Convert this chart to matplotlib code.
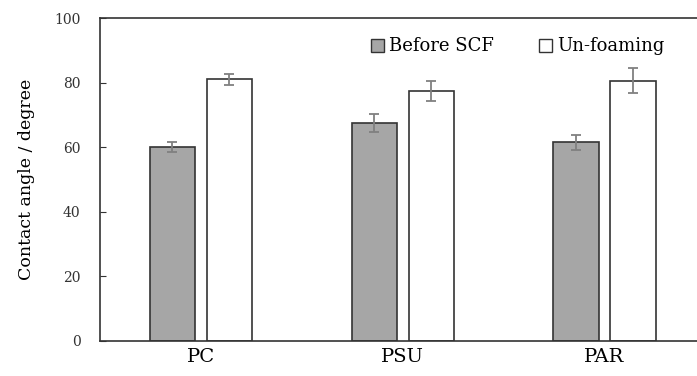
import numpy as np
import matplotlib
matplotlib.use("Agg")
import matplotlib.pyplot as plt
from matplotlib.patches import Patch

categories = ["PC", "PSU", "PAR"]
before_scf = [60.0, 67.4, 61.5]
before_err = [1.5, 2.8, 2.4]
un_foaming = [81.1, 77.5, 80.6]
un_err = [1.7, 3.1, 3.9]

plt.rcParams['font.family'] = ['DejaVu Serif']

fig = plt.figure(figsize=(6.97, 3.76), dpi=100)
# plot area runs past the right edge of the picture, as in the reference
ax = fig.add_axes([100 / 697, 35 / 376, 605.5 / 697, 323 / 376])

x = np.arange(len(categories))
w = 0.225
off = 0.141
ekw = dict(ecolor="#808080", elinewidth=1.3, capsize=3.5, capthick=1.3)

ax.bar(x - off, before_scf, w, yerr=before_err, color="#a6a6a6",
       edgecolor="#333333", linewidth=1.2, error_kw=ekw, zorder=2)
ax.bar(x + off, un_foaming, w, yerr=un_err, color="white",
       edgecolor="#333333", linewidth=1.2, error_kw=ekw, zorder=2)

ax.set_xlim(-0.5, 2.5)
ax.set_ylim(0, 100)
ax.set_yticks(range(0, 101, 20))
ax.set_xticks(x)
ax.set_xticklabels(categories, fontsize=14)
ax.tick_params(axis="x", length=0, pad=5)
ax.tick_params(axis="y", direction="in", length=4, labelsize=10, pad=14,
               colors="#333333")
for s in ["left", "bottom", "top"]:
    ax.spines[s].set_color("#333333")
    ax.spines[s].set_linewidth(1.2)
ax.spines["right"].set_visible(False)

ax.set_ylabel("Contact angle / degree", fontsize=12.5, labelpad=14)

handles = [Patch(facecolor="#a6a6a6", edgecolor="#333333", linewidth=1.0),
           Patch(facecolor="white", edgecolor="#333333", linewidth=1.0)]
ax.legend(handles, ["Before SCF", "Un-foaming"], loc="center left",
          bbox_to_anchor=(0.42, 0.912), ncol=2, frameon=False,
          fontsize=13, handlelength=0.75, handleheight=0.75,
          handletextpad=0.25, columnspacing=2.5)

fig.savefig("out.png", dpi=100)
